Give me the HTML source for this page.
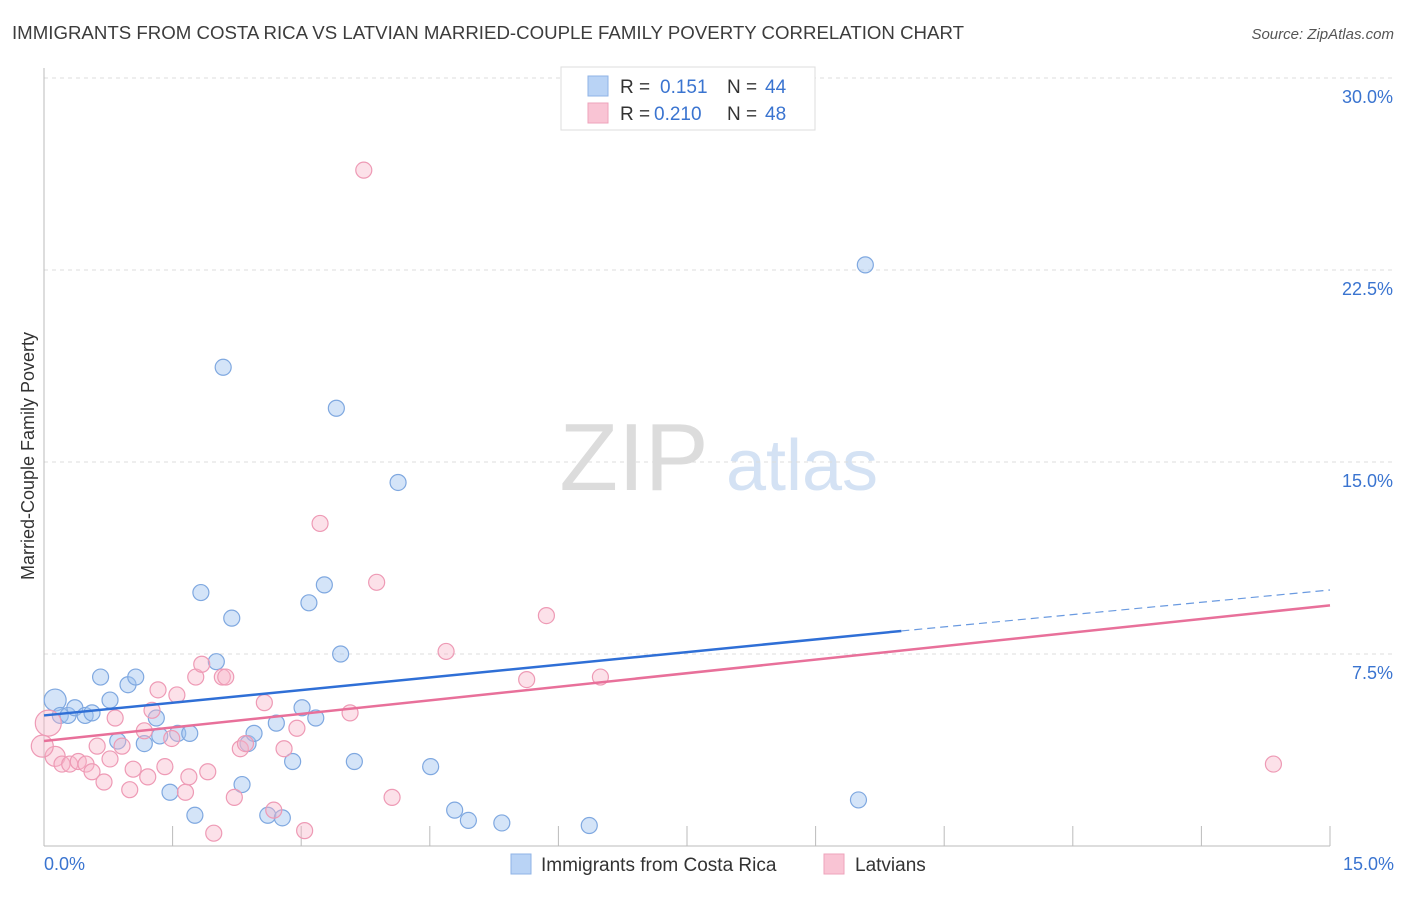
<!DOCTYPE html>
<html><head><meta charset="utf-8"><style>
body{margin:0;background:#fff;font-family:"Liberation Sans",sans-serif;}
svg text{font-family:"Liberation Sans",sans-serif;}
</style></head><body>
<svg id="chart" width="1406" height="892" viewBox="0 0 1406 892" xmlns="http://www.w3.org/2000/svg">
<text x="12" y="39" font-size="18" fill="#3c3c3c" textLength="952" lengthAdjust="spacingAndGlyphs">IMMIGRANTS FROM COSTA RICA VS LATVIAN MARRIED-COUPLE FAMILY POVERTY CORRELATION CHART</text>
<text x="1394" y="39" font-size="15" fill="#555" text-anchor="end" font-style="italic">Source: ZipAtlas.com</text>
<g>
<text x="634" y="490" font-size="96" fill="#dcdcdc" font-family="Liberation Serif" text-anchor="middle">ZIP</text>
<text x="802" y="490" font-size="72" fill="#d4e2f4" text-anchor="middle">atlas</text>
</g>
<g id="grid"></g>
<g id="axes"></g>
<g id="marks"></g>
<text transform="translate(34,456) rotate(-90)" font-size="18" fill="#333" text-anchor="middle">Married-Couple Family Poverty</text>
<g>
<rect x="561" y="67" width="254" height="63" fill="#fff" stroke="#ddd"/>
<rect x="588" y="76" width="20" height="20" fill="#b9d3f5" stroke="#8fb3e6"/>
<rect x="588" y="103" width="20" height="20" fill="#f9c4d4" stroke="#eea3bb"/>
<text x="620" y="93" font-size="19" fill="#333">R = </text><text x="660" y="93" font-size="19" fill="#3a74d0">0.151</text>
<text x="727" y="93" font-size="19" fill="#333">N = </text><text x="765" y="93" font-size="19" fill="#3a74d0">44</text>
<text x="620" y="120" font-size="19" fill="#333">R = </text><text x="654" y="120" font-size="19" fill="#3a74d0">0.210</text>
<text x="727" y="120" font-size="19" fill="#333">N = </text><text x="765" y="120" font-size="19" fill="#3a74d0">48</text>
</g>
<g>
<rect x="511" y="854" width="20" height="20" fill="#b9d3f5" stroke="#8fb3e6"/>
<text x="541" y="871" font-size="19" fill="#333">Immigrants from Costa Rica</text>
<rect x="824" y="854" width="20" height="20" fill="#f9c4d4" stroke="#eea3bb"/>
<text x="855" y="871" font-size="19" fill="#333">Latvians</text>
</g>
</svg>
<script>
const yTicks=[7.5,15,22.5,30];
const yTickLabels=["7.5%","15.0%","22.5%","30.0%"];
const xTickLabels=["0.0%","15.0%"];
const blueX=[0.13,0.19,0.28,0.36,0.48,0.56,0.66,0.77,0.86,0.98,1.07,1.17,1.31,1.35,1.47,1.56,1.70,1.76,1.83,2.01,2.09,2.19,2.31,2.38,2.45,2.61,2.71,2.78,2.90,3.01,3.09,3.17,3.27,3.41,3.46,3.62,4.13,4.51,4.79,4.95,5.34,6.36,9.50,9.58];
const blueY=[5.7,5.1,5.1,5.4,5.1,5.2,6.6,5.7,4.1,6.3,6.6,4.0,5.0,4.3,2.1,4.4,4.4,1.2,9.9,7.2,18.7,8.9,2.4,4.0,4.4,1.2,4.8,1.1,3.3,5.4,9.5,5.0,10.2,17.1,7.5,3.3,14.2,3.1,1.4,1.0,0.9,0.8,1.8,22.7];
const pinkX=[0.05,0.13,0.21,0.30,0.40,0.49,0.56,0.62,0.70,0.77,0.83,0.91,1.00,1.04,1.17,1.21,1.26,1.33,1.41,1.49,1.55,1.65,1.69,1.77,1.84,1.91,1.98,2.08,2.12,2.22,2.29,2.35,2.57,2.68,2.80,2.95,3.04,3.22,3.57,3.73,3.88,4.06,4.69,5.63,5.86,6.49,14.34,-0.02];
const pinkY=[4.8,3.5,3.2,3.2,3.3,3.2,2.9,3.9,2.5,3.4,5.0,3.9,2.2,3.0,4.5,2.7,5.3,6.1,3.1,4.2,5.9,2.1,2.7,6.6,7.1,2.9,0.5,6.6,6.6,1.9,3.8,4.0,5.6,1.4,3.8,4.6,0.6,12.6,5.2,26.4,10.3,1.9,7.6,6.5,9.0,6.6,3.2,3.9];
const pinkR=[14,11,9,9,9,9,9,9,9,9,9,9,9,9,9,9,9,9,9,9,9,9,9,9,9,9,9,9,9,9,9,9,9,9,9,9,9,9,9,9,9,9,9,9,9,9,9,12];
const blueLine=[[0,5.1],[10,8.4],[15,10.0]];
const pinkLine=[[0,4.1],[15,9.4]];
const X0=44,X1=1330,Y0=846,Y30=78;
const sx=v=>X0+v/15*(X1-X0);
const sy=v=>Y0-v/30*(Y0-Y30);
const NS="http://www.w3.org/2000/svg";
function mk(t,a,p){const e=document.createElementNS(NS,t);for(const k in a)e.setAttribute(k,a[k]);p.appendChild(e);return e;}
const grid=document.getElementById('grid'),axes=document.getElementById('axes'),marks=document.getElementById('marks');
yTicks.forEach((v,i)=>{
 const l=mk('line',{x1:X0,x2:1394,y1:sy(v),y2:sy(v),stroke:'#ddd','stroke-dasharray':'4,4'},grid);
 
 
 const t=mk('text',{x:1393,y:sy(v)+25,'font-size':18,fill:'#3a74d0','text-anchor':'end'},axes);
 t.textContent=yTickLabels[i];
 
 
});
const ax=mk('line',{x1:X0,x2:X0,y1:68,y2:Y0,stroke:'#bbb'},axes);


const bx=mk('line',{x1:X0,x2:X1,y1:Y0,y2:Y0,stroke:'#bbb'},axes);


for(let i=0;i<=10;i++){const tk=mk('line',{x1:sx(i*1.5),x2:sx(i*1.5),y1:Y0,y2:Y0-20,stroke:'#bbb'},axes);
 
 }
[[0,'start',44],[15,'end',1394]].forEach((d,i)=>{const t=mk('text',{x:d[2],y:870,'font-size':18,fill:'#3a74d0','text-anchor':d[1]},axes);t.textContent=xTickLabels[i];
 
 });
blueX.forEach((x,i)=>{const c=mk('circle',{cx:sx(x),cy:sy(blueY[i]),r:(i===0?11:8),fill:'rgba(160,195,240,0.45)',stroke:'#7fa8e0','stroke-width':1.2},marks);
 
 });
pinkX.forEach((x,i)=>{const c=mk('circle',{cx:sx(x),cy:sy(pinkY[i]),r:pinkR[i]-1,fill:'rgba(248,180,200,0.4)',stroke:'#ee9ab5','stroke-width':1.2},marks);
 
 });
const b1=mk('line',{x1:sx(blueLine[0][0]),y1:sy(blueLine[0][1]),x2:sx(blueLine[1][0]),y2:sy(blueLine[1][1]),stroke:'#2f6fd6','stroke-width':2.5},marks);


const b2=mk('line',{x1:sx(blueLine[1][0]),y1:sy(blueLine[1][1]),x2:sx(blueLine[2][0]),y2:sy(blueLine[2][1]),stroke:'#6a9ae0','stroke-width':1.2,'stroke-dasharray':'8,5'},marks);


const p1=mk('line',{x1:sx(pinkLine[0][0]),y1:sy(pinkLine[0][1]),x2:sx(pinkLine[1][0]),y2:sy(pinkLine[1][1]),stroke:'#e8709a','stroke-width':2.5},marks);


</script>
</body></html>
